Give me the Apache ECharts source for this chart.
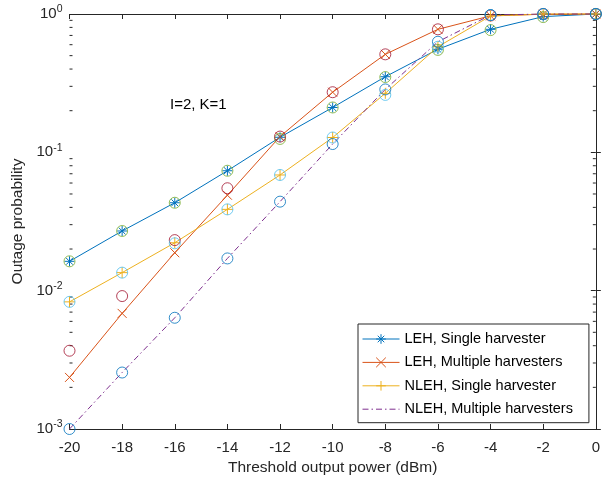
<!DOCTYPE html>
<html>
<head>
<meta charset="utf-8">
<script src="https://cdn.jsdelivr.net/npm/echarts@6/dist/echarts.min.js"></script>
<style>
  html, body { margin: 0; padding: 0; background: #fff; }
  #chart { width: 603px; height: 481px; }
</style>
</head>
<body>
<div id="chart"></div>
<script>
// Threshold output power (dBm)
const powerDbm = [-20, -18, -16, -14, -12, -10, -8, -6, -4, -2, 0];

// Analytical curves
const lehSingle    = [0.0163, 0.027, 0.0432, 0.0736, 0.1285, 0.211, 0.352, 0.556, 0.775, 0.957, 1.0];
const lehMultiple  = [0.00236, 0.00685, 0.0188, 0.049, 0.13, 0.272, 0.511, 0.775, 0.97, 0.996, 1.0];
const nlehSingle   = [0.0083, 0.0135, 0.0222, 0.0387, 0.0686, 0.128, 0.267, 0.58, 0.967, 0.999, 1.0];
const nlehMultiple = [0.001, 0.00256, 0.00637, 0.0171, 0.044, 0.1148, 0.285, 0.63, 0.983, 0.999, 1.0];

// Simulated points (circles)
const simLehSingle    = [0.0163, 0.027, 0.0432, 0.0736, 0.125, 0.211, 0.35, 0.55, 0.765, 0.95, 1.0];
const simLehMultiple  = [0.00368, 0.00914, 0.0232, 0.055, 0.13, 0.272, 0.511, 0.775, 0.975, 1.0, 1.0];
const simNlehSingle   = [0.0083, 0.0135, 0.022, 0.0387, 0.0686, 0.128, 0.26, 0.58, 0.983, 1.0, 1.0];
const simNlehMultiple = [0.001, 0.00256, 0.00637, 0.0171, 0.044, 0.1148, 0.285, 0.63, 0.983, 1.0, 1.0];

const seriesNames = [
  'LEH, Single harvester',
  'LEH, Multiple harvesters',
  'NLEH, Single harvester',
  'NLEH, Multiple harvesters'
];
const annotation = 'I=2, K=1';

// Minor tick values of the log axis (2..9 within each decade)
const minorDecades = [0.001, 0.01, 0.1];
const minorMultipliers = [2, 3, 4, 5, 6, 7, 8, 9];

const FONT = '"Liberation Sans", Arial, Helvetica, sans-serif';
const AXIS_COLOR = '#262626';
const C = {
  blue: '#0072BD', orange: '#D95319', yellow: '#EDB120', purple: '#7E2F8E',
  green: '#77AC30', cyan: '#4DBEEE', red: '#A2142F'
};

const ASTERISK = 'path://M0,5L10,5M5,0L5,10M1.6,1.6L8.4,8.4M8.4,1.6L1.6,8.4';
const CROSS = 'path://M0,0L10,10M10,0L0,10';
const PLUS = 'path://M0,5L10,5M5,0L5,10';

const pairs = ys => powerDbm.map((x, i) => [x, ys[i]]);

function lineSeries(name, ys, color, symbol, size, dash) {
  const marked = !!symbol;
  return {
    name, type: 'line', data: pairs(ys), clip: false,
    symbol: symbol || 'circle', symbolSize: size || 10, showSymbol: marked,
    lineStyle: { color, width: 1, type: dash || 'solid' },
    itemStyle: {
      color: 'rgba(0,0,0,0)',
      borderColor: marked ? color : 'rgba(0,0,0,0)',
      borderWidth: 1
    },
    emphasis: { disabled: true }, z: 3
  };
}
function circleSeries(ys, color) {
  return {
    type: 'scatter', data: pairs(ys), clip: false,
    symbol: 'circle', symbolSize: 11,
    itemStyle: { color: 'rgba(0,0,0,0)', borderColor: color, borderWidth: 1 },
    emphasis: { disabled: true }, z: 4, silent: true
  };
}

const minorVals = [];
minorDecades.forEach(d => minorMultipliers.forEach(m => minorVals.push(m * d)));

const tickLabel = v => {
  const e = Math.round(Math.log10(v));
  return '{b|10}{s|' + e + '}';
};

const chart = echarts.init(document.getElementById('chart'), null, { renderer: 'canvas' });
chart.setOption({
  animation: false,
  backgroundColor: '#fff',
  grid: { left: 69.5, right: 7, top: 14, bottom: 52, containLabel: false },
  xAxis: [{
    type: 'value', min: -20, max: 0, interval: 2,
    name: 'Threshold output power (dBm)', nameLocation: 'middle', nameGap: 29,
    nameTextStyle: { fontFamily: FONT, fontSize: 15.5, color: AXIS_COLOR },
    axisLine: { lineStyle: { color: AXIS_COLOR, width: 1 } },
    axisTick: { inside: true, length: 5, lineStyle: { color: AXIS_COLOR } },
    axisLabel: { fontFamily: FONT, fontSize: 15, color: AXIS_COLOR, margin: 11 },
    splitLine: { show: false }
  }, {
    type: 'value', position: 'top', min: -20, max: 0, interval: 2,
    axisLine: { show: true, lineStyle: { color: AXIS_COLOR, width: 1 } },
    axisTick: { inside: true, length: 5, lineStyle: { color: AXIS_COLOR } },
    axisLabel: { show: false }, splitLine: { show: false }
  }],
  yAxis: [{
    type: 'log', logBase: 10, min: 0.001, max: 1,
    name: 'Outage probability', nameLocation: 'middle', nameGap: 44,
    nameTextStyle: { fontFamily: FONT, fontSize: 15.5, color: AXIS_COLOR },
    axisLine: { show: true, lineStyle: { color: AXIS_COLOR, width: 1 } },
    axisTick: { inside: true, length: 5, lineStyle: { color: AXIS_COLOR } },
    axisLabel: {
      margin: 7, formatter: tickLabel,
      rich: {
        b: { fontFamily: FONT, fontSize: 15, color: AXIS_COLOR },
        s: { fontFamily: FONT, fontSize: 10.5, color: AXIS_COLOR, padding: [0, 0, 9, 0] }
      }
    },
    splitLine: { show: false }
  }, {
    type: 'log', logBase: 10, min: 0.001, max: 1, position: 'right',
    axisLine: { show: true, lineStyle: { color: AXIS_COLOR, width: 1 } },
    axisTick: { inside: true, length: 5, lineStyle: { color: AXIS_COLOR } },
    axisLabel: { show: false }, splitLine: { show: false }
  }],
  legend: {
    data: seriesNames, orient: 'vertical', left: 358, top: 324,
    itemWidth: 37, itemHeight: 12, itemGap: 8.4,
    padding: [7.5, 16, 6, 4],
    backgroundColor: '#fff', borderColor: '#262626', borderWidth: 1, borderRadius: 0,
    textStyle: { fontFamily: FONT, fontSize: 14.5, color: '#000' },
    itemStyle: { borderWidth: 1 },
    lineStyle: { width: 1 },
    selectedMode: false
  },
  graphic: [{
    type: 'text', left: 170, top: 97,
    style: { text: annotation, font: '15px ' + FONT, fill: '#000' }
  }],
  series: [
    lineSeries(seriesNames[0], lehSingle, C.blue, ASTERISK, 10),
    lineSeries(seriesNames[1], lehMultiple, C.orange, CROSS, 9),
    lineSeries(seriesNames[2], nlehSingle, C.yellow, PLUS, 11),
    lineSeries(seriesNames[3], nlehMultiple, C.purple, null, 0, [6, 3, 1.5, 3]),
    circleSeries(simLehSingle, C.green),
    circleSeries(simLehMultiple, C.red),
    circleSeries(simNlehSingle, C.cyan),
    circleSeries(simNlehMultiple, C.blue),
    {
      // minor ticks on left and right sides of the log axis
      type: 'custom', silent: true, clip: false, z: 2,
      data: minorVals.map(v => [-20, v]),
      encode: { x: 0, y: 1 },
      renderItem: (params, api) => {
        const v = api.value(1);
        const l = api.coord([-20, v]);
        const r = api.coord([0, v]);
        const st = { stroke: AXIS_COLOR, lineWidth: 1 };
        return {
          type: 'group', children: [
            { type: 'line', shape: { x1: l[0], y1: l[1], x2: l[0] + 3, y2: l[1] }, style: st },
            { type: 'line', shape: { x1: r[0], y1: r[1], x2: r[0] - 3, y2: r[1] }, style: st }
          ]
        };
      }
    }
  ]
});
</script>
</body>
</html>
